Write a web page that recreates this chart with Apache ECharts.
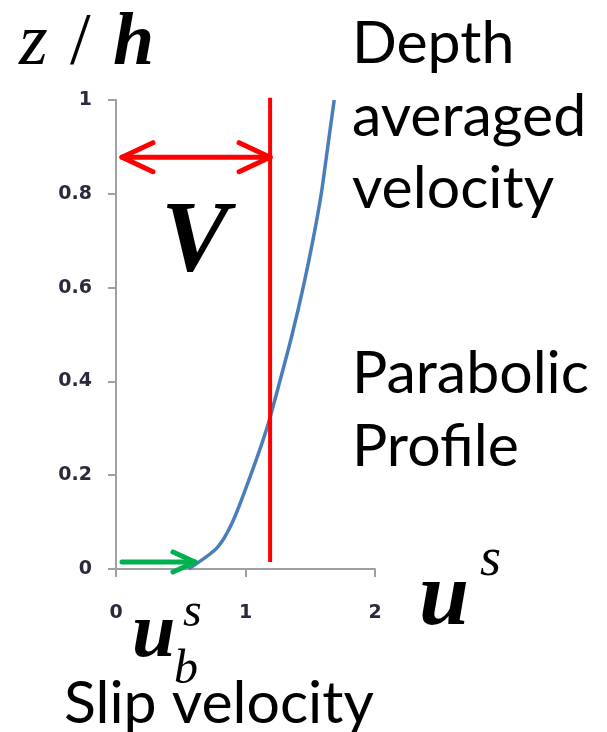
<!DOCTYPE html>
<html>
<head>
<meta charset="utf-8">
<script src="https://cdn.jsdelivr.net/npm/echarts@6/dist/echarts.min.js"></script>
<style>html,body{margin:0;padding:0;background:#fff;}#c{width:607px;height:732px;}</style>
</head>
<body>
<div id="c"></div>
<script>
// ---- data ----
const profileU = [0.56, 0.78, 0.90, 1.04, 1.165, 1.265, 1.36, 1.445, 1.52, 1.585, 1.635, 1.685];
const profileZ = [0.00, 0.045, 0.10, 0.20, 0.30, 0.40, 0.50, 0.60, 0.70, 0.80, 0.90, 1.00];
const depthAvgU = 1.19;
const depthAvgZ = [0.015, 1.005];
const arrowV = [0.046, 0.878, 1.19, 0.878];      // x1, y1, x2, y2 (both heads)
const arrowSlip = [0.046, 0.015, 0.61, 0.015];   // x1, y1, x2, y2 (head at end)
const xTicks = [0, 1, 2];
const yTicks = [0, 0.2, 0.4, 0.6, 0.8, 1];

const chart = echarts.init(document.getElementById('c'), null, {renderer: 'canvas'});

function arrowRender(both, len, half, color, width) {
  return function (params, api) {
    const p1 = api.coord([api.value(0), api.value(1)]);
    const p2 = api.coord([api.value(2), api.value(3)]);
    const st = {stroke: color, lineWidth: width, lineCap: 'round', lineJoin: 'round', fill: null};
    const children = [
      {type: 'polyline', shape: {points: [p1, p2]}, style: st},
      {type: 'polyline', shape: {points: [[p2[0] - len, p2[1] - half], p2, [p2[0] - len, p2[1] + half]]}, style: st}
    ];
    if (both) {
      children.push({type: 'polyline', shape: {points: [[p1[0] + len, p1[1] - half], p1, [p1[0] + len, p1[1] + half]]}, style: st});
    }
    return {type: 'group', children: children};
  };
}

const axisCol = '#a0a0a0';
const labelStyle = {color: '#2a2a3c', fontFamily: 'DejaVu Sans', fontSize: 19, fontWeight: 'bold'};

const serif = '"Liberation Serif", "DejaVu Serif", serif';
const sans = 'Lato, "Open Sans", sans-serif';

function txt(left, top, text, font) {
  return {type: 'text', left: left, top: top, style: Object.assign({text: text, fill: '#000'}, font)};
}
const mathIt = s => ({fontFamily: serif, fontStyle: 'italic', fontSize: s});
const mathBI = s => ({fontFamily: serif, fontStyle: 'italic', fontWeight: 'bold', fontSize: s});
const plain = s => ({fontFamily: sans, fontSize: s});

chart.setOption({
  animation: false,
  backgroundColor: '#ffffff',
  grid: {left: 116, right: 232, top: 100, bottom: 163, containLabel: false},
  xAxis: {
    type: 'value', min: 0, max: 2, interval: 1,
    axisLine: {show: true, lineStyle: {color: axisCol, width: 2}},
    axisTick: {show: true, inside: false, length: 8, lineStyle: {color: axisCol, width: 2}},
    splitLine: {show: false},
    axisLabel: Object.assign({margin: 35, formatter: v => xTicks.includes(v) ? String(v) : ''}, labelStyle)
  },
  yAxis: {
    type: 'value', min: 0, max: 1, interval: 0.2,
    axisLine: {show: true, lineStyle: {color: axisCol, width: 2}},
    axisTick: {show: true, inside: false, length: 8, lineStyle: {color: axisCol, width: 2}},
    splitLine: {show: false},
    axisLabel: Object.assign({margin: 24, formatter: v => {
      const t = yTicks.find(k => Math.abs(k - v) < 1e-9);
      return t === undefined ? '' : String(t);
    }}, labelStyle)
  },
  series: [
    {
      type: 'line', name: 'profile', smooth: 0.25, symbol: 'none', clip: false,
      lineStyle: {color: '#4a7ebb', width: 3.5},
      data: profileU.map((u, i) => [u, profileZ[i]]),
      z: 3
    },
    {
      type: 'line', name: 'depth averaged', symbol: 'none', clip: false,
      lineStyle: {color: '#ff0000', width: 4, cap: 'butt'},
      data: depthAvgZ.map(z => [depthAvgU, z]),
      z: 4
    },
    {
      type: 'custom', name: 'V arrow', clip: false,
      renderItem: arrowRender(true, 31, 14.5, '#ff0000', 5),
      data: [arrowV],
      encode: {x: [0, 2], y: [1, 3]},
      z: 5
    },
    {
      type: 'custom', name: 'slip arrow', clip: false,
      renderItem: arrowRender(false, 22, 10, '#00b050', 5),
      data: [arrowSlip],
      encode: {x: [0, 2], y: [1, 3]},
      z: 5
    }
  ],
  graphic: [
    txt(19, 8, 'z', mathIt(74)),
    txt(70, 8, '/', {fontFamily: serif, fontSize: 74}),
    txt(113, 8, 'h', mathBI(74)),
    txt(161, 194, 'V', mathBI(102)),
    txt(419, 556, 'u', mathBI(90)),
    txt(480, 534, 's', mathIt(54)),
    txt(132, 597, 'u', mathBI(78)),
    txt(183, 589, 's', mathIt(48)),
    txt(174, 646, 'b', mathIt(48)),
    txt(352, 14, 'Depth', plain(59)),
    txt(352, 87, 'averaged', plain(59)),
    txt(352, 159, 'velocity', plain(59)),
    txt(352, 344, 'Parabolic', plain(59)),
    txt(352, 417, 'Profile', plain(59)),
    txt(64, 674, 'Slip velocity', plain(59))
  ]
});
</script>
</body>
</html>
